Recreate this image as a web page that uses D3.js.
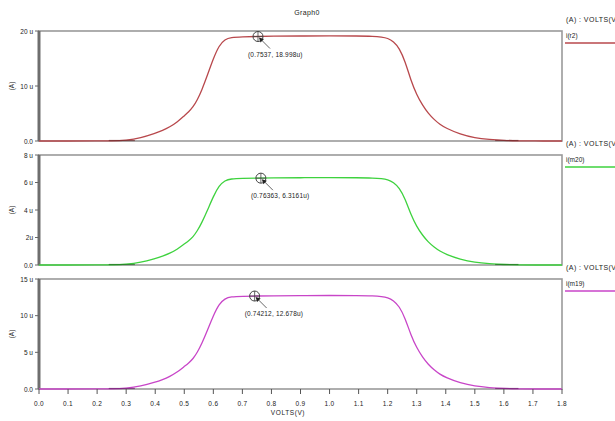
<!DOCTYPE html>
<html lang="en">
<head>
    <meta charset="UTF-8">
    <title>Graph0</title>
    <script src="https://d3js.org/d3.v7.min.js"></script>
    <style>
        body {margin: 0; background: #fff;}
        text {font-family: "Liberation Sans", Arial, sans-serif; fill: #222;}
    </style>
</head>
<body>
<script>
    const width = 615;
    const height = 421;

    // sweep values (V)
    const volts = [0, 0.1, 0.2, 0.25, 0.3, 0.35, 0.4, 0.425, 0.45, 0.475, 0.5, 0.515, 0.53, 0.545, 0.56, 0.58, 0.6, 0.62, 0.64, 0.66,
        0.7, 0.75, 0.8, 0.9, 1.0, 1.1, 1.15, 1.18, 1.2, 1.22, 1.24, 1.26, 1.28, 1.3, 1.32, 1.34, 1.36, 1.38,
        1.4, 1.45, 1.5, 1.55, 1.6, 1.65, 1.7, 1.8];

    // currents in uA
    const iR2 = [0, 0, 0.01, 0.02, 0.12, 0.55, 1.4, 1.9, 2.55, 3.4, 4.6, 5.3, 6.15, 7.5, 9.2, 12.0, 15.0, 17.4, 18.5, 18.85,
        18.95, 19.0, 19.05, 19.1, 19.1, 19.1, 19.05, 18.9, 18.7, 18.1, 16.9, 14.5, 11.0, 8.4, 6.5, 5.0, 3.9, 3.0,
        2.35, 1.2, 0.55, 0.28, 0.1, 0.03, 0, 0];
    const iM20 = [0, 0, 0.003, 0.007, 0.04, 0.18, 0.47, 0.63, 0.85, 1.13, 1.53, 1.76, 2.04, 2.49, 3.06, 3.99, 4.99, 5.78, 6.15, 6.27,
        6.30, 6.316, 6.33, 6.35, 6.35, 6.35, 6.33, 6.28, 6.22, 6.02, 5.62, 4.82, 3.66, 2.79, 2.16, 1.66, 1.30, 1.00,
        0.78, 0.40, 0.18, 0.09, 0.03, 0.01, 0, 0];
    const iM19 = [0, 0, 0.007, 0.013, 0.08, 0.37, 0.93, 1.27, 1.70, 2.27, 3.07, 3.54, 4.10, 5.00, 6.14, 8.01, 10.01, 11.61, 12.34, 12.58,
        12.65, 12.678, 12.71, 12.75, 12.75, 12.75, 12.71, 12.61, 12.48, 12.08, 11.28, 9.68, 7.34, 5.61, 4.34, 3.34, 2.60, 2.00,
        1.57, 0.80, 0.37, 0.19, 0.07, 0.02, 0, 0];

    const xTicks = [0, 0.1, 0.2, 0.3, 0.4, 0.5, 0.6, 0.7, 0.8, 0.9, 1.0, 1.1, 1.2, 1.3, 1.4, 1.5, 1.6, 1.7, 1.8];

    const panels = [
        {name: "i(r2)", values: iR2, max: 20, ticks: [0, 10, 20], labels: ["0.0", "10 u", "20 u"],
            color: "#b8484c", dark: "#6e2a2c", cursor: [0.7537, 18.998], cursorText: "(0.7537, 18.998u)"},
        {name: "i(m20)", values: iM20, max: 8, ticks: [0, 2, 4, 6, 8], labels: ["0.0", "2u", "4 u", "6 u", "8 u"],
            color: "#3ed23e", dark: "#1e6e1e", cursor: [0.76363, 6.3161], cursorText: "(0.76363, 6.3161u)"},
        {name: "i(m19)", values: iM19, max: 15, ticks: [0, 5, 10, 15], labels: ["0.0", "5 u", "10 u", "15 u"],
            color: "#c845c8", dark: "#6e1e6e", cursor: [0.74212, 12.678], cursorText: "(0.74212, 12.678u)"}
    ];

    const left = 39, right = 562;
    const tops = [31, 155, 279];
    const ph = 110;

    const svg = d3.select("body").append("svg")
            .attr("width", width).attr("height", height);

    const x = d3.scaleLinear().domain([0, 1.8]).range([left, right]);

    svg.append("text")
            .attr("x", 307).attr("y", 15)
            .attr("text-anchor", "middle")
            .style("font-size", "7px")
            .style("letter-spacing", "0.4px")
            .text("Graph0");

    panels.forEach(function(p, k) {
        const top = tops[k];
        const y = d3.scaleLinear().domain([0, p.max]).range([top + ph, top]);
        const g = svg.append("g");

        // frame
        g.append("rect")
                .attr("x", left).attr("y", top)
                .attr("width", right - left).attr("height", ph)
                .style("fill", "none")
                .style("stroke", "#9a9a9a")
                .style("stroke-width", 1.6);
        g.append("line")
                .attr("x1", left).attr("x2", left)
                .attr("y1", top).attr("y2", top + ph)
                .style("stroke", "#6e6e6e")
                .style("stroke-width", 3);

        // y ticks
        p.ticks.forEach(function(t, i) {
            g.append("line")
                    .attr("x1", left - 4).attr("x2", left)
                    .attr("y1", y(t)).attr("y2", y(t))
                    .style("stroke", "#666").style("stroke-width", 1);
            g.append("text")
                    .attr("x", left - 6).attr("y", y(t) + 2.5)
                    .attr("text-anchor", "end")
                    .style("font-size", "6.5px")
                    .text(p.labels[i]);
        });

        g.append("text")
                .attr("transform", "translate(14," + (top + ph / 2) + ") rotate(-90)")
                .attr("text-anchor", "middle")
                .style("font-size", "6.5px")
                .text("(A)");

        // trace
        const line = d3.line()
                .x((d, i) => x(volts[i]))
                .y(d => y(d))
                .curve(d3.curveBasis);

        g.append("path")
                .datum(p.values)
                .attr("d", line)
                .style("fill", "none")
                .style("stroke", p.color)
                .style("stroke-width", 1.3);

        // darker overlay where the trace leaves / rejoins zero
        [[0.24, 0.33], [1.57, 1.65]].forEach(function(s) {
            g.append("line")
                    .attr("x1", x(s[0])).attr("x2", x(s[1]))
                    .attr("y1", y(0) - 0.5).attr("y2", y(0) - 0.5)
                    .style("stroke", p.dark).style("stroke-width", 1.2).style("opacity", 0.7);
        });

        // cursor marker
        const cx = x(p.cursor[0]), cy = y(p.cursor[1]);
        g.append("circle")
                .attr("cx", cx).attr("cy", cy).attr("r", 5)
                .style("fill", "none").style("stroke", "#444").style("stroke-width", 1);
        g.append("path")
                .attr("d", "M" + (cx - 5) + "," + cy + "H" + (cx + 5) + "M" + cx + "," + (cy - 5) + "V" + (cy + 5))
                .style("stroke", "#444").style("stroke-width", 0.8);
        g.append("line")
                .attr("x1", cx + 12).attr("y1", cy + 12)
                .attr("x2", cx + 2).attr("y2", cy + 2)
                .style("stroke", "#555").style("stroke-width", 0.9);
        g.append("path")
                .attr("d", "M" + (cx + 1) + "," + (cy + 1) + "l5,1.5l-3.5,3.5z")
                .style("fill", "#222");
        g.append("text")
                .attr("x", cx - 10).attr("y", cy + 20)
                .style("font-size", "6.5px")
                .style("letter-spacing", "0.2px")
                .text(p.cursorText);

        // legend on the right (the window edge cuts the closing bracket in the original)
        svg.append("text")
                .attr("x", 566).attr("y", top - 9)
                .style("font-size", "7px")
                .style("letter-spacing", "0.45px")
                .text("(A) : VOLTS(V");
        svg.append("text")
                .attr("x", 566).attr("y", top + 7)
                .style("font-size", "6.5px")
                .text(p.name);
        svg.append("line")
                .attr("x1", 565).attr("x2", 615)
                .attr("y1", top + 12).attr("y2", top + 12)
                .style("stroke", p.color).style("stroke-width", 1.3);
    });

    // x axis under the last panel
    const base = tops[2] + ph;
    xTicks.forEach(function(t) {
        svg.append("line")
                .attr("x1", x(t)).attr("x2", x(t))
                .attr("y1", base).attr("y2", base + 5)
                .style("stroke", "#555").style("stroke-width", 1);
        svg.append("text")
                .attr("x", x(t)).attr("y", base + 17)
                .attr("text-anchor", "middle")
                .style("font-size", "6.5px")
                .style("letter-spacing", "0.3px")
                .text(d3.format(".1f")(t));
    });
    svg.append("text")
            .attr("x", 288).attr("y", base + 26)
            .attr("text-anchor", "middle")
            .style("font-size", "6.5px")
            .style("letter-spacing", "0.6px")
            .text("VOLTS(V)");
</script>
</body>
</html>
